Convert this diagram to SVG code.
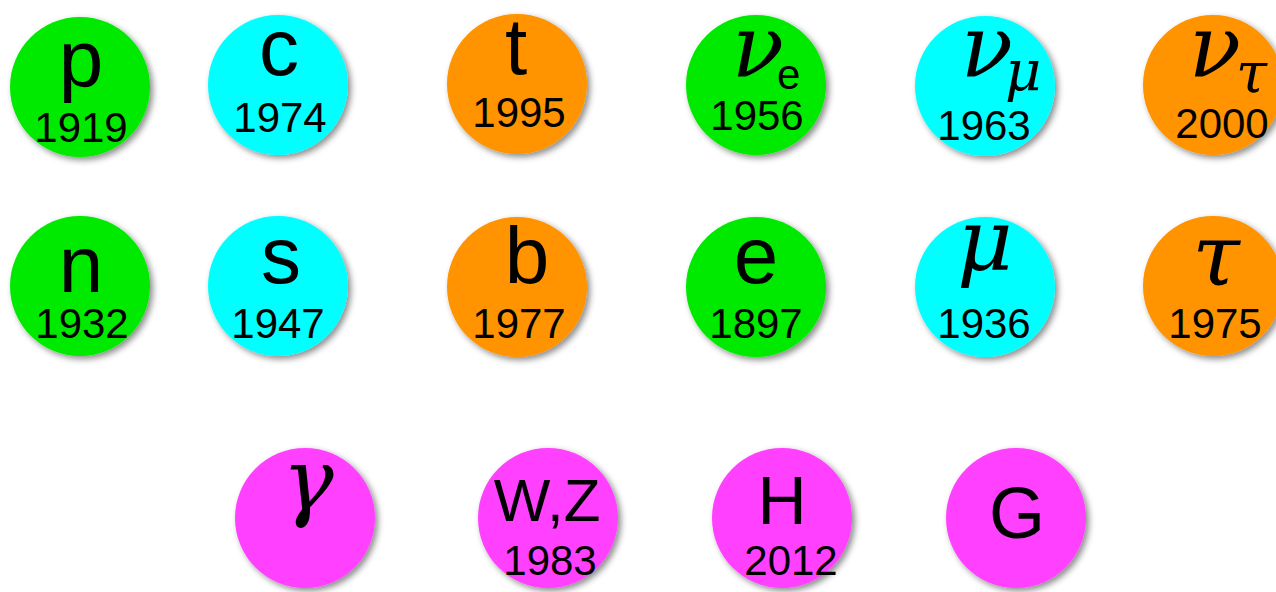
<svg xmlns="http://www.w3.org/2000/svg" width="1276" height="592" viewBox="0 0 1276 592">
<defs>
<filter id="sh" x="-20%" y="-20%" width="140%" height="140%">
<feDropShadow dx="3" dy="3" stdDeviation="3" flood-color="#000" flood-opacity="0.45"/>
</filter>
<style>
.b{filter:url(#sh)}
.g{fill:#00EA00}
.c{fill:#00FFFF}
.o{fill:#FF9300}
.m{fill:#FF40FF}
.L{font-family:"Liberation Sans",Arial,sans-serif;font-size:80px;fill:#000;text-anchor:middle}
.Y{font-family:"Liberation Sans",Arial,sans-serif;font-size:42px;fill:#000;text-anchor:middle}
.G{font-family:"DejaVu Serif",serif;font-style:italic;font-size:86px;fill:#000;text-anchor:middle}
.S{font-family:"DejaVu Serif",serif;font-style:italic;font-size:56px;text-anchor:start}
.e{font-family:"Liberation Sans",Arial,sans-serif;font-style:normal;font-size:42px;text-anchor:start}
</style>
</defs>
<rect width="1276" height="592" fill="#fff"/>
<g id="p"><circle class="b g" cx="80" cy="87" r="70"/><text class="L" x="81" y="86">p</text><text class="Y" x="81" y="142">1919</text></g>
<g id="c"><circle class="b c" cx="278" cy="85" r="70"/><text class="L" x="279" y="75">c</text><text class="Y" x="280" y="132">1974</text></g>
<g id="t"><circle class="b o" cx="517" cy="84" r="70"/><text class="L" x="516" y="74">t</text><text class="Y" x="519" y="127">1995</text></g>
<g id="nue"><circle class="b g" cx="756" cy="85" r="70"/><text class="G" x="758" y="76">ν<tspan class="e" x="777" y="89">e</tspan></text><text class="Y" x="757" y="130">1956</text></g>
<g id="numu"><circle class="b c" cx="985" cy="86" r="70"/><text class="G" x="987" y="76">ν<tspan class="S" x="1005" y="90">μ</tspan></text><text class="Y" x="984" y="140">1963</text></g>
<g id="nutau"><circle class="b o" cx="1213" cy="85" r="70"/><text class="G" x="1215" y="76">ν<tspan class="S" x="1236" y="92">τ</tspan></text><text class="Y" x="1222" y="138">2000</text></g>
<g id="n"><circle class="b g" cx="80" cy="286" r="70"/><text class="L" x="81" y="292">n</text><text class="Y" x="82" y="338">1932</text></g>
<g id="s"><circle class="b c" cx="278" cy="286" r="70"/><text class="L" x="281" y="283">s</text><text class="Y" x="278" y="338">1947</text></g>
<g id="b"><circle class="b o" cx="517" cy="287" r="70"/><text class="L" x="527" y="283">b</text><text class="Y" x="519" y="338">1977</text></g>
<g id="e"><circle class="b g" cx="756" cy="287" r="70"/><text class="L" x="756" y="283">e</text><text class="Y" x="756" y="338">1897</text></g>
<g id="mu"><circle class="b c" cx="985" cy="287" r="70"/><text class="G" x="985" y="270">μ</text><text class="Y" x="984" y="338">1936</text></g>
<g id="tau"><circle class="b o" cx="1213" cy="286" r="70"/><text class="G" x="1216" y="285">τ</text><text class="Y" x="1215" y="338">1975</text></g>
<g id="gamma"><circle class="b m" cx="305" cy="518" r="70"/><text class="G" x="308" y="510">γ</text></g>
<g id="WZ"><circle class="b m" cx="548" cy="518" r="70"/><text class="L" x="547" y="521" style="font-size:60px">W,Z</text><text class="Y" x="550" y="575">1983</text></g>
<g id="H"><circle class="b m" cx="782" cy="518" r="70"/><text class="L" x="782" y="524" style="font-size:68px">H</text><text class="Y" x="791" y="575">2012</text></g>
<g id="Gl"><circle class="b m" cx="1016" cy="518" r="70"/><text class="L" x="1017" y="538" style="font-size:72px">G</text></g>
</svg>
